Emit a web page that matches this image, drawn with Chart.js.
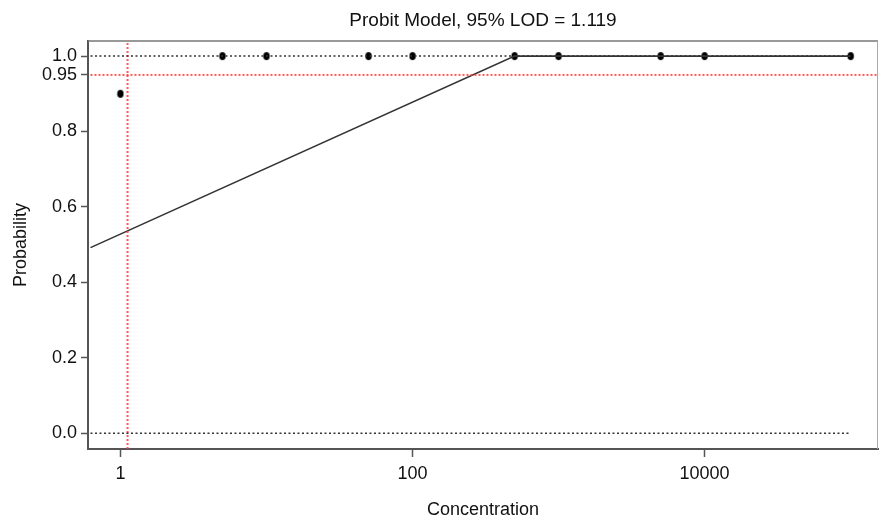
<!DOCTYPE html>
<html>
<head>
<meta charset="utf-8">
<script src="https://cdn.jsdelivr.net/npm/chart.js@4"></script>
<style>
  html, body { margin: 0; padding: 0; background: #fff; overflow: hidden; }
  /* a little wider than the window: Chart.js keeps ~4px free on the right */
  #wrap { width: 883px; height: 521px; position: relative; }
  canvas { display: block; }
</style>
</head>
<body>
<div id="wrap"><canvas id="chartProbit"></canvas></div>
<script>
// --- data ---
const concentration = [1, 5, 10, 50, 100, 500, 1000, 5000, 10000, 100000];
const observed = [0.9, 1, 1, 1, 1, 1, 1, 1, 1, 1];
const fitX = [0.624, 500, 100000];
const fitY = [0.492, 1.0, 1.0];
const lodValue = 1.119;
const lodLevel = 0.95;
const xTicks = [1, 100, 10000];
const yTicks = [0, 0.2, 0.4, 0.6, 0.8, 0.95, 1.0];
const xRange = [0.624, 153900];
const yRange = [-0.042, 1.04];

const FONT = "'Liberation Sans', Arial, sans-serif";

// small upright ellipse used as point marker
const dot = document.createElement('canvas');
dot.width = 8; dot.height = 10;
(function() {
    const c = dot.getContext('2d');
    c.fillStyle = '#000';
    c.beginPath();
    c.ellipse(4, 5, 3.2, 4, 0, 0, Math.PI * 2);
    c.fill();
})();

const toXY = (xs, ys) => xs.map((x, i) => ({ x: x, y: ys[i] }));

// title centered over plot area + top/right box edges
const boxAndTitle = {
    id: 'boxAndTitle',
    afterDraw(chart) {
        const { ctx, chartArea: a } = chart;
        ctx.save();
        ctx.strokeStyle = '#777';
        ctx.lineWidth = 1.5;
        ctx.beginPath();
        ctx.moveTo(a.left, a.top);
        ctx.lineTo(a.right, a.top);
        ctx.stroke();
        ctx.strokeStyle = '#aaa';
        ctx.lineWidth = 1;
        ctx.beginPath();
        ctx.moveTo(a.right - 0.5, a.top);
        ctx.lineTo(a.right - 0.5, a.bottom);
        ctx.stroke();

        ctx.fillStyle = '#111';
        ctx.font = '19px ' + FONT;
        ctx.textAlign = 'center';
        ctx.textBaseline = 'alphabetic';
        ctx.fillText('Probit Model, 95% LOD = ' + lodValue, (a.left + a.right) / 2, 26);
        ctx.restore();
    }
};

new Chart(document.getElementById('chartProbit'), {
    type: 'scatter',
    data: {
        datasets: [
            {   // dotted reference at 1.0
                data: toXY([xRange[0], 100000], [1, 1]),
                showLine: true, borderColor: '#333', borderWidth: 1.5, borderDash: [2, 2.5],
                pointRadius: 0
            },
            {   // dotted reference at 0.0
                data: toXY([xRange[0], 100000], [0, 0]),
                showLine: true, borderColor: '#333', borderWidth: 1.5, borderDash: [2, 2.5],
                pointRadius: 0
            },
            {   // 95% level
                data: toXY(xRange, [lodLevel, lodLevel]),
                showLine: true, borderColor: 'rgba(255, 60, 60, 0.85)', borderWidth: 2, borderDash: [2, 2],
                pointRadius: 0
            },
            {   // LOD vertical
                data: toXY([lodValue, lodValue], yRange),
                showLine: true, borderColor: 'rgba(255, 60, 60, 0.85)', borderWidth: 2, borderDash: [2, 2],
                pointRadius: 0
            },
            {   // fitted probit line
                data: toXY(fitX, fitY),
                showLine: true, borderColor: '#333', borderWidth: 1.6,
                pointRadius: 0
            },
            {   // observed hit rates
                data: toXY(concentration, observed),
                showLine: false, pointStyle: dot, pointRadius: 4
            }
        ]
    },
    options: {
        responsive: true, maintainAspectRatio: false, animation: false,
        layout: { padding: { top: 41, right: 1, left: 0, bottom: 0 } },
        plugins: { legend: { display: false }, tooltip: { enabled: false } },
        scales: {
            x: {
                type: 'logarithmic', min: xRange[0], max: xRange[1],
                afterBuildTicks: s => { s.ticks = xTicks.map(v => ({ value: v })); },
                afterFit: s => { s.height = 72; },
                ticks: { color: '#111', font: { family: FONT, size: 18 }, padding: 6,
                    autoSkip: false, maxRotation: 0, callback: v => String(v) },
                grid: { drawOnChartArea: false, tickLength: 8, tickColor: '#555', tickWidth: 1.5 },
                border: { color: '#555', width: 2 },
                title: { display: true, text: 'Concentration', color: '#111',
                    font: { family: FONT, size: 18 }, padding: { top: 0, bottom: 0 } }
            },
            y: {
                min: yRange[0], max: yRange[1],
                afterBuildTicks: s => { s.ticks = yTicks.map(v => ({ value: v })); },
                afterFit: s => { s.width = 88; },
                ticks: { color: '#111', font: { family: FONT, size: 18 }, padding: 4,
                    autoSkip: false, callback: v => (v === 0.95 ? '0.95' : v.toFixed(1)) },
                grid: { drawOnChartArea: false, tickLength: 7, tickColor: '#555', tickWidth: 1.5 },
                border: { color: '#555', width: 2 },
                title: { display: true, text: 'Probability', color: '#111',
                    font: { family: FONT, size: 18 }, padding: { top: 10, bottom: 0 } }
            }
        }
    },
    plugins: [boxAndTitle]
});
</script>
</body>
</html>
